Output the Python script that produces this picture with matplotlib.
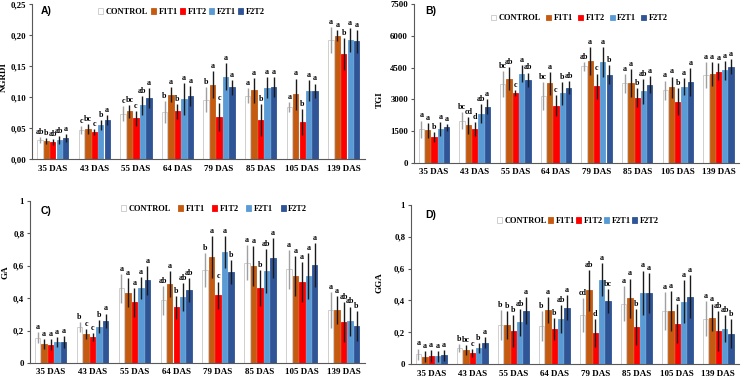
import numpy as np
import matplotlib
matplotlib.use('Agg')
import matplotlib.pyplot as plt

plt.rcParams['font.family'] = ['Liberation Serif', 'DejaVu Serif']

days = ['35 DAS', '43 DAS', '55 DAS', '64 DAS', '79 DAS', '85 DAS', '105 DAS', '139 DAS']
treatments = ['CONTROL', 'F1T1', 'F1T2', 'F2T1', 'F2T2']
colors = ['#ffffff', '#c55a11', '#ff0000', '#5b9bd5', '#2f5597']
edges = ['#c8c8c8', '#c55a11', '#ff0000', '#5b9bd5', '#2f5597']

# NGRDI (rows = treatments, cols = days)
ngrdi = [[0.031, 0.047, 0.073, 0.076, 0.096, 0.102, 0.084, 0.192],
         [0.029, 0.049, 0.077, 0.104, 0.120, 0.111, 0.105, 0.199],
         [0.028, 0.044, 0.066, 0.077, 0.068, 0.063, 0.060, 0.170],
         [0.031, 0.055, 0.087, 0.097, 0.133, 0.115, 0.110, 0.192],
         [0.034, 0.063, 0.098, 0.102, 0.116, 0.116, 0.110, 0.190]]
ngrdi_err = [[0.005, 0.006, 0.012, 0.017, 0.020, 0.012, 0.008, 0.021],
             [0.005, 0.008, 0.010, 0.012, 0.022, 0.020, 0.025, 0.009],
             [0.005, 0.005, 0.012, 0.012, 0.022, 0.026, 0.021, 0.026],
             [0.006, 0.008, 0.015, 0.026, 0.022, 0.017, 0.017, 0.019],
             [0.006, 0.008, 0.016, 0.016, 0.012, 0.016, 0.012, 0.018]]
ngrdi_let = [['ab', 'c', 'c', 'b', 'b', 'a', 'a', 'a'],
             ['b', 'bc', 'bc', 'a', 'a', 'a', 'a', 'a'],
             ['ab', 'c', 'c', 'b', 'c', 'b', 'b', 'b'],
             ['ab', 'b', 'ab', 'a', 'a', 'a', 'a', 'a'],
             ['a', 'a', 'a', 'a', 'a', 'a', 'a', 'a']]

# TGI
tgi = [[1600, 2000, 3720, 3150, 4560, 3760, 3440, 4150],
       [1550, 1780, 3980, 3760, 4820, 3780, 3580, 4200],
       [1220, 1600, 3300, 2700, 3620, 3080, 2900, 4300],
       [1600, 2320, 4220, 3280, 4780, 3380, 3600, 4370],
       [1680, 2650, 3920, 3560, 4160, 3700, 3820, 4540]]
tgi_err = [[400, 400, 600, 650, 200, 450, 450, 600],
           [350, 400, 550, 550, 650, 650, 500, 550],
           [250, 350, 150, 500, 600, 450, 650, 400],
           [350, 450, 400, 550, 700, 600, 400, 450],
           [150, 350, 350, 300, 450, 400, 650, 350]]
tgi_let = [['a', 'bc', 'bc', 'bc', 'ab', 'a', 'a', 'a'],
           ['a', 'cd', 'ab', 'a', 'a', 'a', 'a', 'a'],
           ['b', 'd', 'c', 'c', 'c', 'b', 'b', 'a'],
           ['a', 'ab', 'a', 'b', 'a', 'ab', 'a', 'a'],
           ['a', 'a', 'ab', 'ab', 'b', 'a', 'a', 'a']]

# GA
ga = [[0.155, 0.220, 0.460, 0.387, 0.573, 0.620, 0.578, 0.328],
      [0.118, 0.177, 0.435, 0.487, 0.652, 0.598, 0.537, 0.326],
      [0.113, 0.162, 0.375, 0.343, 0.418, 0.462, 0.500, 0.253],
      [0.127, 0.222, 0.462, 0.408, 0.685, 0.567, 0.537, 0.258],
      [0.130, 0.260, 0.510, 0.450, 0.562, 0.647, 0.604, 0.228]]
ga_err = [[0.035, 0.030, 0.090, 0.090, 0.105, 0.110, 0.120, 0.110],
          [0.030, 0.030, 0.090, 0.080, 0.130, 0.125, 0.125, 0.085],
          [0.035, 0.025, 0.090, 0.070, 0.085, 0.110, 0.125, 0.125],
          [0.030, 0.040, 0.070, 0.085, 0.100, 0.135, 0.140, 0.090],
          [0.035, 0.045, 0.090, 0.075, 0.075, 0.125, 0.135, 0.090]]
ga_let = [['a', 'b', 'a', 'ab', 'b', 'a', 'a', 'a'],
          ['a', 'c', 'a', 'a', 'a', 'a', 'a', 'a'],
          ['a', 'c', 'a', 'b', 'c', 'b', 'a', 'ab'],
          ['a', 'b', 'a', 'ab', 'a', 'ab', 'a', 'ab'],
          ['a', 'a', 'a', 'ab', 'b', 'a', 'a', 'b']]

# GGA
gga = [[0.062, 0.100, 0.245, 0.238, 0.307, 0.378, 0.333, 0.283],
       [0.045, 0.088, 0.245, 0.340, 0.462, 0.412, 0.335, 0.290],
       [0.050, 0.070, 0.205, 0.220, 0.195, 0.232, 0.254, 0.205],
       [0.048, 0.100, 0.262, 0.283, 0.530, 0.447, 0.390, 0.222],
       [0.055, 0.133, 0.335, 0.355, 0.398, 0.447, 0.422, 0.190]]
gga_err = [[0.035, 0.025, 0.095, 0.095, 0.105, 0.110, 0.120, 0.110],
           [0.035, 0.030, 0.090, 0.080, 0.130, 0.125, 0.125, 0.085],
           [0.035, 0.025, 0.100, 0.070, 0.085, 0.115, 0.120, 0.125],
           [0.035, 0.030, 0.085, 0.090, 0.105, 0.140, 0.135, 0.085],
           [0.035, 0.035, 0.085, 0.080, 0.075, 0.125, 0.135, 0.090]]
gga_let = [['a', 'b', 'b', 'b', 'cd', 'a', 'a', 'a'],
           ['a', 'bc', 'b', 'a', 'ab', 'a', 'a', 'a'],
           ['a', 'c', 'b', 'b', 'd', 'b', 'a', 'ab'],
           ['a', 'b', 'ab', 'ab', 'a', 'a', 'a', 'ab'],
           ['a', 'a', 'a', 'a', 'bc', 'a', 'a', 'b']]


def fmt_comma(v, dec):
    if dec == 0:
        return '%d' % v
    return (('%.' + str(dec) + 'f') % v).replace('.', ',')


def panel(ax, vals, errs, lets, ylabel, tag, ymax, step, dec, leg_xy, colsp, lab_xy, tag_xy,
          one_label=False):
    x = np.arange(len(days))
    w = 0.13
    off = 0.155
    for i, t in enumerate(treatments):
        xs = x + (i - 2) * off
        ax.bar(xs, vals[i], w, color=colors[i], edgecolor=edges[i], linewidth=0.6, label=t)
        ecol = '#a0a0a0' if i == 0 else '#1a1a1a'
        ax.errorbar(xs, vals[i], yerr=errs[i], fmt='none', ecolor=ecol, elinewidth=1.0, capsize=0)
        for j in range(len(days)):
            ax.annotate(lets[i][j], (xs[j], vals[i][j] + errs[i][j]), xytext=(0, 0.8),
                        textcoords='offset points', ha='center', va='bottom',
                        fontsize=5.8, fontweight='bold')
    ax.set_xlim(-0.5, len(days) - 0.5)
    ax.set_ylim(0, ymax)
    ticks = np.arange(0, ymax + step / 2, step)
    ax.set_yticks(ticks)
    if one_label:
        ax.set_yticklabels(['0'] + [fmt_comma(t, 1) for t in ticks[1:-1]] + ['1'])
    else:
        ax.set_yticklabels([fmt_comma(t, dec) for t in ticks])
    ax.set_xticks(x)
    ax.set_xticklabels(days)
    ax.tick_params(axis='x', length=0, labelsize=6.5, pad=4)
    ax.tick_params(axis='y', length=2, labelsize=6.3, pad=2, color='#595959')
    for lab in ax.get_xticklabels() + ax.get_yticklabels():
        lab.set_fontweight('bold')
    ax.spines['top'].set_visible(False)
    ax.spines['right'].set_visible(False)
    ax.spines['left'].set_color('#595959')
    ax.spines['bottom'].set_color('#595959')
    ax.set_ylabel(ylabel, fontsize=6.5, fontweight='bold')
    ax.yaxis.set_label_coords(lab_xy[0], lab_xy[1])
    ax.text(tag_xy[0], tag_xy[1], tag, transform=ax.transAxes, fontsize=7.5, fontweight='bold',
            family='Liberation Sans', ha='left', va='top')
    ax.legend(loc='center', bbox_to_anchor=leg_xy, ncol=5, frameon=False,
              prop={'size': 6, 'weight': 'bold'}, handlelength=0.6, handleheight=0.7,
              handletextpad=0.3, columnspacing=colsp, borderaxespad=0)


fig = plt.figure(figsize=(7.44, 3.78), dpi=100)
axA = fig.add_axes([0.043, 0.579, 0.447, 0.41])
axB = fig.add_axes([0.556, 0.569, 0.437, 0.42])
axC = fig.add_axes([0.040, 0.040, 0.450, 0.428])
axD = fig.add_axes([0.552, 0.037, 0.441, 0.421])

panel(axA, ngrdi, ngrdi_err, ngrdi_let, 'NGRDI', 'A)', 0.25, 0.05, 2, (0.45, 0.95), 0.3,
      (-0.072, 0.53), (0.025, 0.99))
panel(axB, tgi, tgi_err, tgi_let, 'TGI', 'B)', 7500, 1500, 0, (0.51, 0.91), 0.6,
      (-0.092, 0.40), (0.035, 0.99))
panel(axC, ga, ga_err, ga_let, 'GA', 'C)', 1.0, 0.2, 1, (0.55, 0.95), 0.9,
      (-0.062, 0.56), (0.033, 0.97), one_label=True)
panel(axD, gga, gga_err, gga_let, 'GGA', 'D)', 1.0, 0.2, 1, (0.51, 0.90), 0.15,
      (-0.082, 0.51), (0.043, 0.97), one_label=True)

fig.savefig('out.png', dpi=100)
